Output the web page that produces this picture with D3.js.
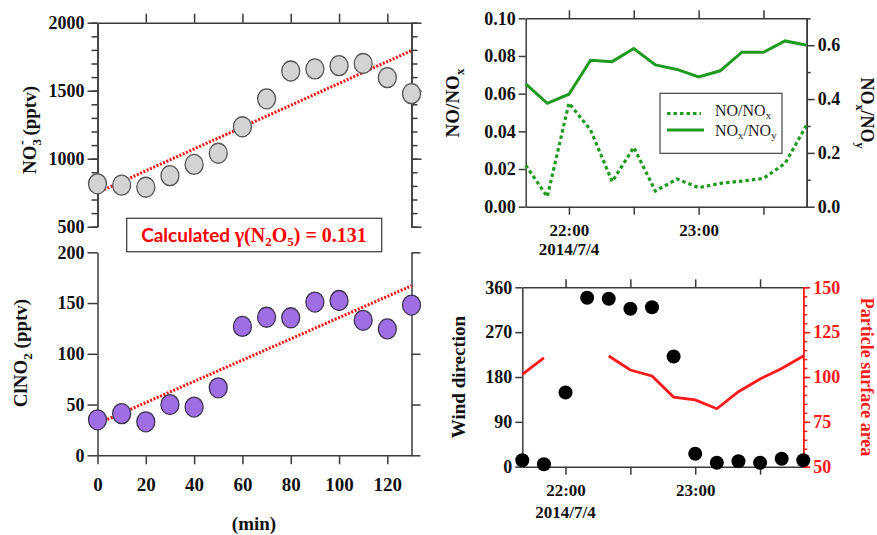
<!DOCTYPE html>
<html><head><meta charset="utf-8">
<script src="https://cdn.jsdelivr.net/npm/d3@7"></script>
<style>
body{margin:0;background:#fff;}
</style></head>
<body><svg id="c" width="877" height="535" font-family="Liberation Serif, Times New Roman, serif" font-weight="bold"></svg>
<script>
// ---------- data ----------
const minutes = [0,10,20,30,40,50,60,70,80,90,100,110,120,130];
const no3 = [815,805,790,875,958,1040,1235,1440,1645,1660,1684,1700,1596,1478];
const clno2 = [35,41,33,50,47.5,66.5,127,136,135.5,151,152.5,133,124.5,148];
const no3Fit = [750,1795];      // dotted regression at 0 and 130 min
const clno2Fit = [31,167];
const times = ["21:40","21:50","22:00","22:10","22:20","22:30","22:40","22:50","23:00","23:10","23:20","23:30","23:40","23:50"];
const noNox = [0.022,0.0053,0.055,0.0407,0.0133,0.0315,0.0083,0.0147,0.0101,0.0124,0.0136,0.015,0.023,0.0434];
const noxNoy = [0.456,0.384,0.418,0.544,0.539,0.588,0.527,0.51,0.482,0.505,0.574,0.574,0.616,0.6];
const windDir = [13,5,149,339,337,317,320,221,26,8,11,8,16,13];
const particleSA = [101.5,110.6,null,null,111.7,103.9,100.6,88.8,87.2,82.3,91.8,98.9,104.8,111.7];
const timeTicks = ["22:00","22:30","23:00","23:30"];
const timeLabels = ["22:00","23:00"];
const dateLabel = "2014/7/4";

const svg = d3.select("#c");
const AX = "#3a3a3a";
const SERIF = "Liberation Serif, Times New Roman, serif";
const parseT = s => { const [h,m]=s.split(":").map(Number); return new Date(2014,6,4,h,m); };

function styleAxis(g, color, fs){
  g.selectAll(".domain").attr("stroke", color||AX).attr("stroke-width",1.5);
  g.selectAll(".tick line").attr("stroke", color||AX).attr("stroke-width",1.5);
  g.attr("font-family",SERIF).attr("font-weight","bold").attr("font-size",fs||18);
  g.selectAll(".tick text").attr("fill", color||"#111");
  return g;
}
function axis(gen, tx, ty, color, fs){
  const g = svg.append("g").attr("transform",`translate(${tx},${ty})`).call(gen);
  return styleAxis(g,color,fs);
}

// ---------- top-left: NO3- ----------
const xMin = d3.scaleLinear([0,130],[97.5,411.5]);
const yNO3 = d3.scaleLinear([500,2000],[226.7,22.7]);
const no3Major = d3.range(500,2001,500), no3Minor = d3.range(500,2001,100);
axis(d3.axisLeft(yNO3).tickValues(no3Minor).tickSize(6).tickSizeOuter(0).tickFormat(""), 97.5,0);
axis(d3.axisLeft(yNO3).tickValues(no3Major).tickSize(10).tickSizeOuter(0).tickPadding(3).tickFormat(d3.format("d")), 97.5,0);
axis(d3.axisRight(yNO3).tickValues(no3Minor).tickSize(6).tickSizeOuter(0).tickFormat(""), 411.5,0);
axis(d3.axisRight(yNO3).tickValues(no3Major).tickSize(10).tickSizeOuter(0).tickFormat(""), 411.5,0);
axis(d3.axisTop(xMin).tickValues(d3.range(20,121,20)).tickSize(9).tickSizeOuter(0).tickFormat(""), 0,22.7);

svg.append("line").attr("x1",xMin(0)).attr("x2",xMin(130)).attr("y1",yNO3(no3Fit[0])).attr("y2",yNO3(no3Fit[1]))
  .attr("stroke","#ff1010").attr("stroke-width",3).attr("stroke-dasharray","2,1.6");
svg.append("g").selectAll("ellipse").data(minutes).join("ellipse")
  .attr("cx",(d)=>xMin(d)).attr("cy",(d,i)=>yNO3(no3[i])).attr("rx",9).attr("ry",10)
  .attr("fill","#d3d3d3").attr("stroke","#555").attr("stroke-width",1.3);

const t1 = svg.append("text").attr("transform","translate(36,130) rotate(-90)").attr("text-anchor","middle").attr("font-size",19).attr("fill","#111");
t1.append("tspan").text("NO");
t1.append("tspan").text("3").attr("font-size",13).attr("dy",5);
t1.append("tspan").text("-").attr("font-size",14).attr("dy",-15).attr("dx",-6);
t1.append("tspan").text(" (pptv)").attr("dy",10);

// ---------- bottom-left: ClNO2 ----------
const yCl = d3.scaleLinear([0,200],[455.3,252.3]);
axis(d3.axisLeft(yCl).tickValues(d3.range(0,201,50)).tickSize(10).tickSizeOuter(0).tickPadding(3), 97.5,0);
axis(d3.axisRight(yCl).tickValues(d3.range(0,201,50)).tickSize(9).tickSizeOuter(0).tickFormat(""), 411.5,0);
axis(d3.axisBottom(xMin).tickValues(d3.range(0,121,20)).tickSize(9).tickSizeOuter(0).tickPadding(13), 0,455.3, null, 19);

svg.append("line").attr("x1",xMin(0)).attr("x2",xMin(130)).attr("y1",yCl(clno2Fit[0])).attr("y2",yCl(clno2Fit[1]))
  .attr("stroke","#ff1010").attr("stroke-width",3).attr("stroke-dasharray","2,1.6");
svg.append("g").selectAll("ellipse").data(minutes).join("ellipse")
  .attr("cx",(d)=>xMin(d)).attr("cy",(d,i)=>yCl(clno2[i])).attr("rx",9).attr("ry",10)
  .attr("fill","#a06ee4").attr("stroke","#3d3550").attr("stroke-width",1.3);

const t2 = svg.append("text").attr("transform","translate(27,353) rotate(-90)").attr("text-anchor","middle").attr("font-size",19).attr("fill","#111");
t2.append("tspan").text("ClNO");
t2.append("tspan").text("2").attr("font-size",13).attr("dy",5);
t2.append("tspan").text(" (pptv)").attr("dy",-5);

svg.append("text").attr("x",254).attr("y",530).attr("text-anchor","middle").attr("font-size",19).attr("fill","#111").text("(min)");

// formula box
svg.append("rect").attr("x",126.7).attr("y",218.3).attr("width",255).attr("height",33.4)
  .attr("fill","#fff").attr("stroke","#444").attr("stroke-width",1.3);
const fb = svg.append("text").attr("x",254).attr("y",242).attr("text-anchor","middle").attr("fill","#ff0000").attr("font-size",20);
fb.append("tspan").text("Calculated ").attr("font-family","Lato, Open Sans, sans-serif").attr("font-size",19);
fb.append("tspan").text("γ(N");
fb.append("tspan").text("2").attr("font-size",13).attr("dy",4);
fb.append("tspan").text("O").attr("dy",-4);
fb.append("tspan").text("5").attr("font-size",13).attr("dy",4);
fb.append("tspan").text(") = 0.131").attr("dy",-4);

// ---------- top-right: NO/NOx, NOx/NOy ----------
const tDomain = [parseT("21:40"), parseT("23:50")];
const fmtHM = d3.timeFormat("%H:%M");
const xT = d3.scaleTime(tDomain,[525.7,806.7]);
const yL = d3.scaleLinear([0,0.1],[206.7,18.3]);
const yR = d3.scaleLinear([0,0.7],[206.7,18.3]);
axis(d3.axisLeft(yL).tickValues(d3.range(0,0.101,0.02)).tickSize(7).tickSizeOuter(0).tickPadding(3).tickFormat(d3.format(".2f")), 525.7,0);
axis(d3.axisRight(yR).tickValues([0.1,0.3,0.5,0.7]).tickSize(4).tickSizeOuter(0).tickFormat(""), 806.7,0);
axis(d3.axisRight(yR).tickValues([0,0.2,0.4,0.6]).tickSize(8).tickSizeOuter(0).tickPadding(3).tickFormat(d3.format(".1f")), 806.7,0);
axis(d3.axisTop(xT).tickValues(timeTicks.map(parseT)).tickSize(8).tickSizeOuter(0).tickFormat(""), 0,18.3);
axis(d3.axisBottom(xT).tickValues(timeTicks.map(parseT)).tickSize(8).tickSizeOuter(0).tickPadding(9)
  .tickFormat(d => timeLabels.includes(fmtHM(d)) ? fmtHM(d) : ""), 0,206.7, null, 17);
svg.append("text").attr("x",xT(parseT("22:00"))).attr("y",255).attr("text-anchor","middle").attr("font-size",17).attr("fill","#111").text(dateLabel);

const lineT = (arr, ys) => d3.line().x((d,i)=>xT(parseT(times[i]))).y(d=>ys(d))(arr);
svg.append("path").attr("d",lineT(noxNoy,yR)).attr("fill","none").attr("stroke","#1e9a1e").attr("stroke-width",3);
svg.append("path").attr("d",lineT(noNox,yL)).attr("fill","none").attr("stroke","#1e9a1e").attr("stroke-width",3.2).attr("stroke-dasharray","3.5,3");

// legend
svg.append("rect").attr("x",660).attr("y",93.3).attr("width",122).attr("height",60).attr("fill","#fff").attr("stroke","#444").attr("stroke-width",1.2);
svg.append("line").attr("x1",667).attr("x2",701).attr("y1",113.5).attr("y2",113.5).attr("stroke","#1e9a1e").attr("stroke-width",3.2).attr("stroke-dasharray","3.5,3");
svg.append("line").attr("x1",667).attr("x2",704).attr("y1",130).attr("y2",130).attr("stroke","#1e9a1e").attr("stroke-width",3);
const lg1 = svg.append("text").attr("x",715).attr("y",116).attr("font-size",16).attr("font-weight","normal").attr("fill","#222");
lg1.append("tspan").text("NO/NO");
lg1.append("tspan").text("x").attr("font-size",11).attr("dy",3);
const lg2 = svg.append("text").attr("x",715).attr("y",136).attr("font-size",16).attr("font-weight","normal").attr("fill","#222");
lg2.append("tspan").text("NO");
lg2.append("tspan").text("x").attr("font-size",11).attr("dy",3);
lg2.append("tspan").text("/NO").attr("dy",-3);
lg2.append("tspan").text("y").attr("font-size",11).attr("dy",3);

const t3 = svg.append("text").attr("transform","translate(459,103) rotate(-90)").attr("text-anchor","middle").attr("font-size",19).attr("fill","#111");
t3.append("tspan").text("NO/NO");
t3.append("tspan").text("x").attr("font-size",13).attr("dy",5);
const t4 = svg.append("text").attr("transform","translate(861,113) rotate(90)").attr("text-anchor","middle").attr("font-size",18).attr("fill","#111");
t4.append("tspan").text("NO");
t4.append("tspan").text("x").attr("font-size",12).attr("dy",5);
t4.append("tspan").text("/NO").attr("dy",-5);
t4.append("tspan").text("y").attr("font-size",12).attr("dy",5);

// ---------- bottom-right: wind direction & particle surface ----------
const xB = d3.scaleTime(tDomain,[522.3,803.3]);
const yW = d3.scaleLinear([0,360],[466.7,287.3]);
const yP = d3.scaleLinear([50,150],[466.7,287.3]);
axis(d3.axisLeft(yW).tickValues(d3.range(0,361,90)).tickSize(7).tickSizeOuter(0).tickPadding(3), 522.3,0);
axis(d3.axisTop(xB).tickValues(timeTicks.map(parseT)).tickSize(8).tickSizeOuter(0).tickFormat(""), 0,287.3);
axis(d3.axisBottom(xB).tickValues(timeTicks.map(parseT)).tickSize(8).tickSizeOuter(0).tickPadding(9)
  .tickFormat(d => timeLabels.includes(fmtHM(d)) ? fmtHM(d) : ""), 0,466.7, null, 17);
svg.append("text").attr("x",xB(parseT("22:00"))).attr("y",518).attr("text-anchor","middle").attr("font-size",17).attr("fill","#111").text(dateLabel);
const RED = "#ff1a1a";
axis(d3.axisRight(yP).tickValues(d3.range(50,151,5)).tickSize(4).tickSizeOuter(0).tickFormat(""), 803.3,0, RED);
axis(d3.axisRight(yP).tickValues(d3.range(50,151,25)).tickSize(7).tickSizeOuter(0).tickPadding(3), 803.3,0, RED);

svg.append("path").attr("d", d3.line().defined(d=>d!=null).x((d,i)=>xB(parseT(times[i]))).y(d=>yP(d))(particleSA))
  .attr("fill","none").attr("stroke",RED).attr("stroke-width",2.8);
svg.append("g").selectAll("circle").data(windDir).join("circle")
  .attr("cx",(d,i)=>xB(parseT(times[i]))).attr("cy",d=>yW(d)).attr("r",7).attr("fill","#000");

svg.append("text").attr("transform","translate(465,377) rotate(-90)").attr("text-anchor","middle").attr("font-size",19).attr("fill","#111").text("Wind direction");
svg.append("text").attr("transform","translate(861,377) rotate(90)").attr("text-anchor","middle").attr("font-size",18).attr("fill",RED).text("Particle surface area");
</script></body></html>
